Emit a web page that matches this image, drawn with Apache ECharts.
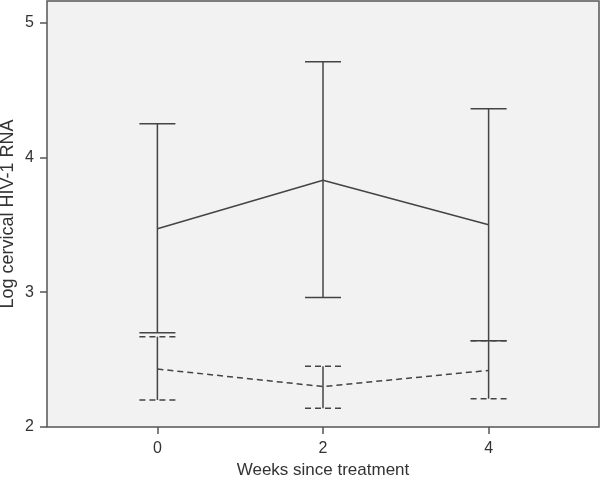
<!DOCTYPE html>
<html>
<head>
<meta charset="utf-8">
<script src="https://cdn.jsdelivr.net/npm/echarts@6/dist/echarts.min.js"></script>
<style>
  html, body { margin: 0; padding: 0; background: #fff; }
  #chart { width: 601px; height: 477px; }
</style>
</head>
<body>
<div id="chart"></div>
<script>
// weeks since treatment
var weeks = [0, 2, 4];
var xTicks = [0, 2, 4];
var yTicks = [2, 3, 4, 5];
// solid line: mean with 95% CI
var solidMean = [3.47, 3.83, 3.50];
var solidLow = [2.70, 2.96, 2.64];
var solidHigh = [4.25, 4.71, 4.36];
// dashed line: mean with 95% CI
var dashMean = [2.43, 2.30, 2.42];
var dashLow = [2.20, 2.14, 2.21];
var dashHigh = [2.67, 2.45, 2.64];

var lineColor = '#444';

function pairs (ys) {
  return weeks.map(function (w, i) { return [w, ys[i]]; });
}
function ranges (lo, hi) {
  return weeks.map(function (w, i) { return [w, lo[i], hi[i]]; });
}

// error bar: solid vertical stroke, caps solid or dashed
function errorBar (dashed) {
  return function (params, api) {
    var top = api.coord([api.value(0), api.value(2)]);
    var bot = api.coord([api.value(0), api.value(1)]);
    var half = 18;
    var capStyle = { stroke: lineColor, lineWidth: 1.5, lineDash: dashed ? [6, 4] : null };
    return {
      type: 'group',
      children: [
        { type: 'line', shape: { x1: top[0], y1: top[1], x2: bot[0], y2: bot[1] },
          style: { stroke: lineColor, lineWidth: 1.5 } },
        { type: 'line', shape: { x1: top[0] - half, y1: top[1], x2: top[0] + half, y2: top[1] },
          style: capStyle },
        { type: 'line', shape: { x1: bot[0] - half, y1: bot[1], x2: bot[0] + half, y2: bot[1] },
          style: capStyle }
      ]
    };
  };
}

const myChart = echarts.init(document.getElementById('chart'));
const option = {
  animation: false,
  textStyle: { fontFamily: 'Liberation Sans, Arial, sans-serif' },
  grid: {
    left: 47, right: 2, top: 1, bottom: 50,
    outerBoundsMode: 'none',
    containLabel: false,
    show: true,
    backgroundColor: '#f2f2f2',
    borderColor: '#555',
    borderWidth: 1.5
  },
  xAxis: {
    type: 'value',
    min: -4 / 3,
    max: 16 / 3,
    name: 'Weeks since treatment',
    nameLocation: 'middle',
    nameGap: 35,
    nameMoveOverlap: false,
    nameTextStyle: { fontSize: 17, color: '#333', verticalAlign: 'top' },
    axisLine: { show: false, onZero: false },
    axisTick: { show: true, customValues: xTicks, length: 7, lineStyle: { color: '#555', width: 1.5 } },
    axisLabel: { customValues: xTicks, fontSize: 16, color: '#333', margin: 14 },
    splitLine: { show: false }
  },
  yAxis: {
    type: 'value',
    min: 2,
    max: 5.16,
    name: 'Log cervical HIV-1 RNA',
    nameLocation: 'middle',
    nameGap: 30,
    nameMoveOverlap: false,
    nameTextStyle: { fontSize: 18, color: '#333' },
    axisLine: { show: false, onZero: false },
    axisTick: { show: true, customValues: yTicks, length: 7, lineStyle: { color: '#555', width: 1.5 } },
    axisLabel: { customValues: yTicks, fontSize: 16, color: '#333', margin: 13 },
    splitLine: { show: false }
  },
  series: [{
    name: 'solid',
    type: 'line',
    data: pairs(solidMean),
    symbol: 'none',
    lineStyle: { color: lineColor, width: 1.5 },
    z: 3
  }, {
    name: 'dashed',
    type: 'line',
    data: pairs(dashMean),
    symbol: 'none',
    lineStyle: { color: lineColor, width: 1.5, type: [6, 4] },
    z: 3
  }, {
    name: 'solidCI',
    type: 'custom',
    data: ranges(solidLow, solidHigh),
    renderItem: errorBar(false),
    encode: { x: 0, y: [1, 2] },
    z: 2
  }, {
    name: 'dashedCI',
    type: 'custom',
    data: ranges(dashLow, dashHigh),
    renderItem: errorBar(true),
    encode: { x: 0, y: [1, 2] },
    z: 2
  }]
};
myChart.setOption(option);
window.addEventListener('resize', function () {
  myChart.resize();
});
</script>
</body>
</html>
